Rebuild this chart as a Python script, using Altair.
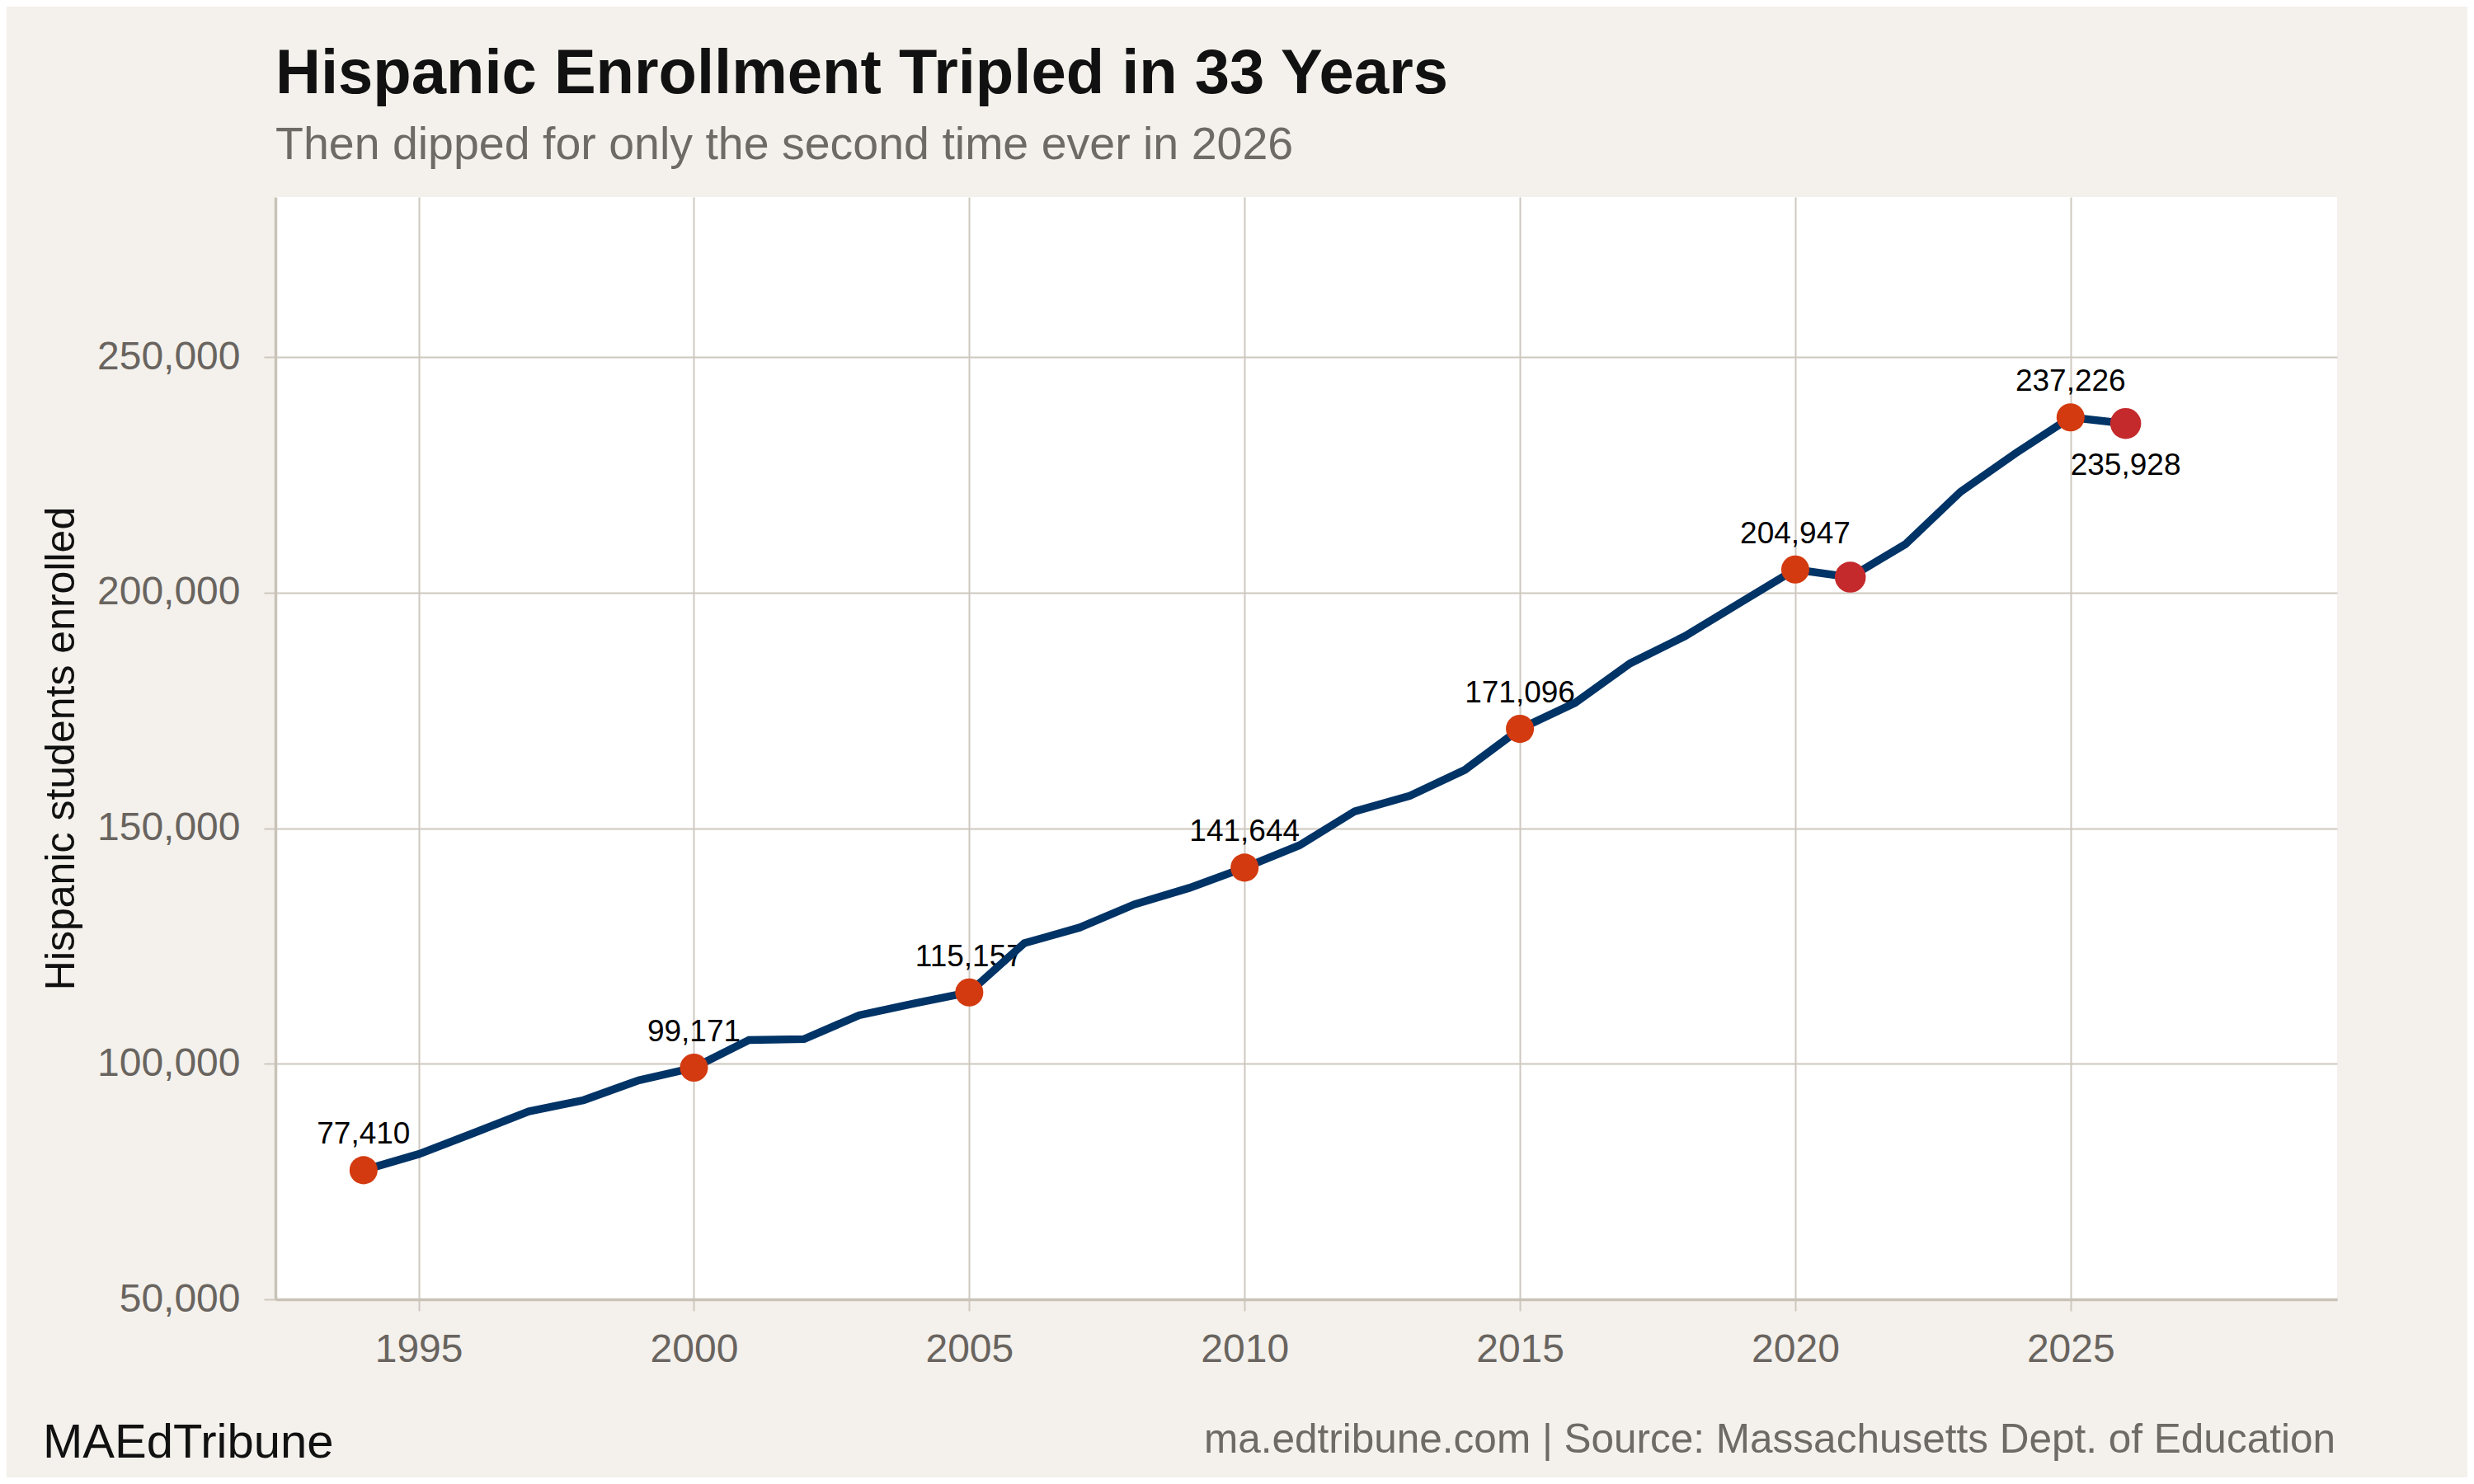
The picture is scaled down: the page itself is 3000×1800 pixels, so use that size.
import altair as alt
import pandas as pd

# ---- data ----
years = list(range(1994, 2027))
enrollment = [77410, 80820, 85300, 89900, 92300, 96500, 99171, 105060, 105240,
              110300, 112800, 115157, 125600, 128900, 133850, 137350, 141644,
              146400, 153600, 156900, 162400, 171096, 176600, 185000, 190800,
              197900, 204947, 203300, 210300, 221400, 229600, 237226, 235928]
milestone_years = [1994, 2000, 2005, 2010, 2015, 2020, 2025]
dip_years = [2021, 2026]
label_above_years = [1994, 2000, 2005, 2010, 2015, 2020, 2025]
label_below_years = [2026]

x_ticks = [1995, 2000, 2005, 2010, 2015, 2020, 2025]
y_ticks = [50000, 100000, 150000, 200000, 250000]

title_text = "Hispanic Enrollment Tripled in 33 Years"
subtitle_text = "Then dipped for only the second time ever in 2026"
y_title = "Hispanic students enrolled"
footer_left = "MAEdTribune"
footer_right = "ma.edtribune.com | Source: Massachusetts Dept. of Education"

# ---- tables ----
def kind(y):
    if y in milestone_years:
        return "milestone"
    if y in dip_years:
        return "dip"
    return ""

def label_pos(y):
    if y in label_above_years:
        return "above"
    if y in label_below_years:
        return "below"
    return ""

df = pd.DataFrame({
    "year": years,
    "value": enrollment,
    "kind": [kind(y) for y in years],
    "labelpos": [label_pos(y) for y in years],
})

FONT = "Liberation Sans"
W, H = 2500, 1337

x_enc = alt.X("year:Q",
              scale=alt.Scale(domain=[1992.4, 2029.84], nice=False, zero=False),
              axis=alt.Axis(values=x_ticks, format="d", title=None))
y_enc = alt.Y("value:Q",
              scale=alt.Scale(domain=[50000, 284000], nice=False, zero=False),
              axis=alt.Axis(values=y_ticks, format=",d", title=y_title,
                            titlePadding=35))

base = alt.Chart(df).encode(x=x_enc, y=y_enc)

labels_above = base.transform_filter(alt.datum.labelpos == "above").mark_text(
    dy=-32, baseline="alphabetic", align="center", fontSize=37, font=FONT, color="#000000"
).encode(text=alt.Text("value:Q", format=","))

labels_below = base.transform_filter(alt.datum.labelpos == "below").mark_text(
    dy=62, baseline="alphabetic", align="center", fontSize=37, font=FONT, color="#000000"
).encode(text=alt.Text("value:Q", format=","))

line = base.mark_line(color="#003366", strokeWidth=9.5)

points = base.transform_filter(alt.datum.kind != "").mark_circle(opacity=1).encode(
    color=alt.Color("kind:N", scale=alt.Scale(domain=["milestone", "dip"],
                                              range=["#d33a0f", "#c4292c"]), legend=None),
    size=alt.Size("kind:N", scale=alt.Scale(domain=["milestone", "dip"],
                                            range=[1160, 1410]), legend=None),
)

foot_l = alt.Chart(pd.DataFrame({"t": [footer_left]})).mark_text(
    align="left", baseline="alphabetic", fontSize=58, font=FONT, color="#111111"
).encode(x=alt.value(-282), y=alt.value(1529), text="t:N")

foot_r = alt.Chart(pd.DataFrame({"t": [footer_right]})).mark_text(
    align="right", baseline="alphabetic", fontSize=49.5, font=FONT, color="#6e6a66"
).encode(x=alt.value(2498), y=alt.value(1523), text="t:N")

chart = alt.layer(labels_above, labels_below, line, points, foot_l, foot_r).properties(
    width=W, height=H,
    title=alt.TitleParams(
        text=title_text, subtitle=subtitle_text, anchor="start", frame="group",
        font=FONT, fontSize=76, fontWeight="bold", color="#111111",
        subtitleFont=FONT, subtitleFontSize=55.5, subtitleColor="#6e6a66",
        subtitlePadding=20, offset=34,
    ),
    autosize=alt.AutoSizeParams(type="none"),
    padding={"left": 326, "top": 231, "right": 158, "bottom": 216},
).configure(background="#f4f1ec", font=FONT).configure_view(
    fill="white", stroke=None
).configure_axis(
    gridColor="#cec8bf", gridWidth=2,
    domainColor="#c9c2b8", domainWidth=3.5,
    tickColor="#cec8bf", tickWidth=2, tickSize=14,
    labelFont=FONT, labelFontSize=48, labelColor="#69645f",
    titleFont=FONT, titleFontSize=50, titleColor="#111111", titleFontWeight="normal",
).configure_axisX(labelPadding=23).configure_axisY(labelPadding=29)

chart.save("out.html", embed_options={"renderer": "svg", "actions": False})
